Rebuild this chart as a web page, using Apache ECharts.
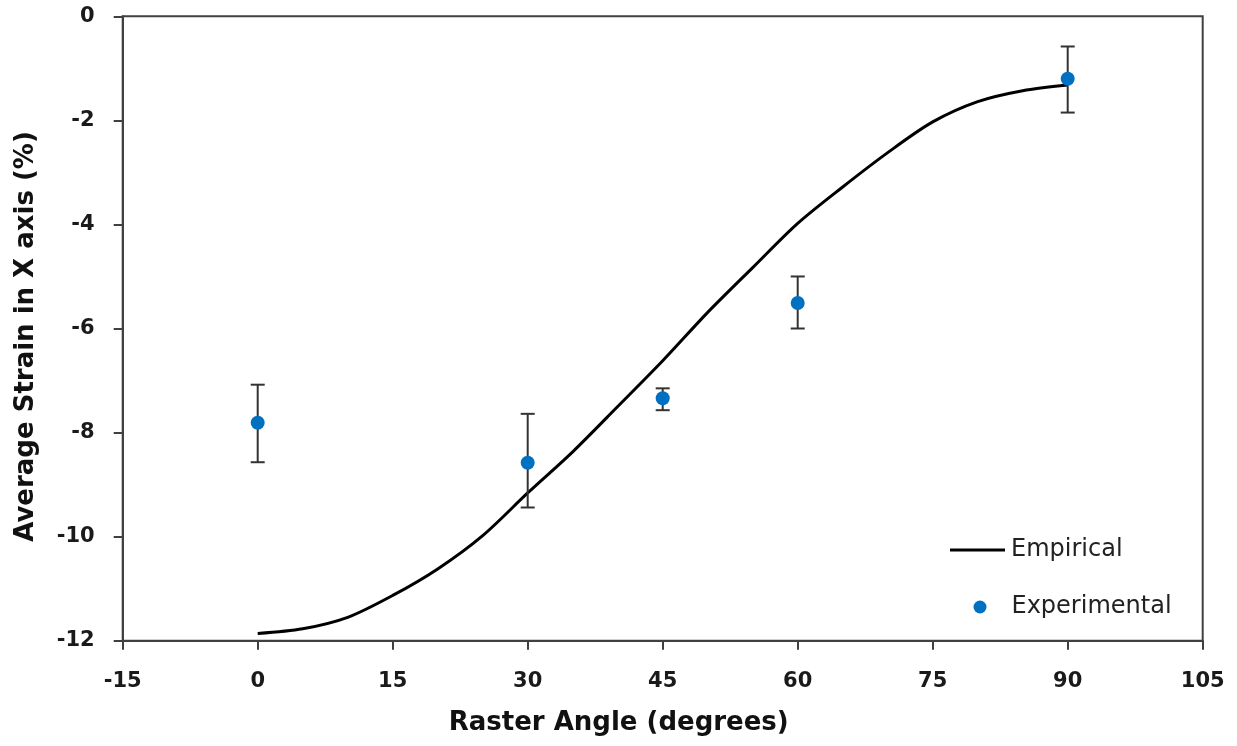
<!DOCTYPE html>
<html>
<head>
<meta charset="utf-8">
<title>Average Strain vs Raster Angle</title>
<script src="https://cdn.jsdelivr.net/npm/echarts@6/dist/echarts.min.js"></script>
<style>
  html, body { margin: 0; padding: 0; background: #fff; }
  #chart { width: 1237px; height: 746px; }
</style>
</head>
<body>
<div id="chart"></div>
<script>
// empirical curve (degrees, %)
const curveAngle = [0, 5, 10, 15, 20, 25, 30, 35, 40, 45, 50, 55, 60, 65, 70, 75, 80, 85, 90];
const curveStrain = [-11.86, -11.77, -11.55, -11.13, -10.62, -9.98, -9.16, -8.37, -7.50, -6.62,
  -5.69, -4.83, -3.98, -3.28, -2.62, -2.03, -1.64, -1.43, -1.32];

// experimental points + error bar ends
const expAngle = [0, 30, 45, 60, 90];
const expStrain = [-7.81, -8.58, -7.34, -5.51, -1.20];
const expHigh = [-7.08, -7.64, -7.15, -5.00, -0.58];
const expLow = [-8.57, -9.44, -7.57, -6.00, -1.85];

const xTicks = { min: -15, max: 105, interval: 15 };
const yTicks = { min: -12, max: 0, interval: 2 };

const FONT = 'DejaVu Sans';
const AXIS_COLOR = '#404040';

const chart = echarts.init(document.getElementById('chart'), null, { renderer: 'canvas' });

const option = {
  backgroundColor: '#fff',
  animation: false,
  grid: {
    left: 122.7, right: 34.3, top: 16.3, bottom: 105.3,
    show: true, borderColor: AXIS_COLOR, borderWidth: 2
  },
  xAxis: {
    type: 'value',
    min: xTicks.min, max: xTicks.max, interval: xTicks.interval,
    name: 'Raster Angle (degrees)',
    nameLocation: 'middle',
    nameGap: 70,
    nameTextStyle: { fontFamily: FONT, fontSize: 26, fontWeight: 'bold', color: '#111', padding: [0, 88, 0, 0] },
    axisLine: { show: true, onZero: false, lineStyle: { color: AXIS_COLOR, width: 2 } },
    axisTick: { show: true, inside: false, length: 9, lineStyle: { color: AXIS_COLOR, width: 2 } },
    axisLabel: { fontFamily: FONT, fontSize: 21, fontWeight: 'bold', color: '#1a1a1a', margin: 30 },
    splitLine: { show: false }
  },
  yAxis: {
    type: 'value',
    min: yTicks.min, max: yTicks.max, interval: yTicks.interval,
    name: 'Average Strain in X axis (%)',
    nameLocation: 'middle',
    nameGap: 83,
    nameTextStyle: { fontFamily: FONT, fontSize: 26, fontWeight: 'bold', color: '#111', padding: [0, 16, 0, 0] },
    axisLine: { show: true, onZero: false, lineStyle: { color: AXIS_COLOR, width: 2 } },
    axisTick: { show: true, inside: false, length: 9, lineStyle: { color: AXIS_COLOR, width: 2 } },
    axisLabel: { fontFamily: FONT, fontSize: 21, fontWeight: 'bold', color: '#1a1a1a', margin: 28 },
    splitLine: { show: false }
  },
  legend: [
    {
      data: [{ name: 'Empirical', icon: 'rect' }],
      left: 950, top: 538, padding: 0,
      itemWidth: 55, itemHeight: 3,
      itemStyle: { color: '#000' },
      textStyle: { fontFamily: FONT, fontSize: 24, color: '#222', padding: [0, 0, 0, 1] }
    },
    {
      data: [{ name: 'Experimental', icon: 'circle' }],
      left: 973.5, top: 595, padding: 0,
      itemWidth: 13, itemHeight: 13,
      textStyle: { fontFamily: FONT, fontSize: 24, color: '#222', padding: [0, 0, 0, 20] }
    }
  ],
  series: [
    {
      name: 'Empirical',
      type: 'line',
      data: curveAngle.map((a, i) => [a, curveStrain[i]]),
      showSymbol: false,
      symbol: 'none',
      smooth: 0.3,
      lineStyle: { color: '#000', width: 3 },
      itemStyle: { color: '#000' },
      z: 3
    },
    {
      name: 'errorbars',
      type: 'custom',
      data: expAngle.map((a, i) => [a, expLow[i], expHigh[i]]),
      renderItem: function (params, api) {
        const lo = api.coord([api.value(0), api.value(1)]);
        const hi = api.coord([api.value(0), api.value(2)]);
        const cap = 7;
        const style = { stroke: '#333', lineWidth: 2 };
        return {
          type: 'group',
          children: [
            { type: 'line', shape: { x1: lo[0], y1: lo[1], x2: hi[0], y2: hi[1] }, style: style },
            { type: 'line', shape: { x1: lo[0] - cap, y1: lo[1], x2: lo[0] + cap, y2: lo[1] }, style: style },
            { type: 'line', shape: { x1: hi[0] - cap, y1: hi[1], x2: hi[0] + cap, y2: hi[1] }, style: style }
          ]
        };
      },
      z: 4
    },
    {
      name: 'Experimental',
      type: 'scatter',
      data: expAngle.map((a, i) => [a, expStrain[i]]),
      symbol: 'circle',
      symbolSize: 14,
      itemStyle: { color: '#0070C0', opacity: 1 },
      z: 5
    }
  ]
};

chart.setOption(option);
</script>
</body>
</html>
